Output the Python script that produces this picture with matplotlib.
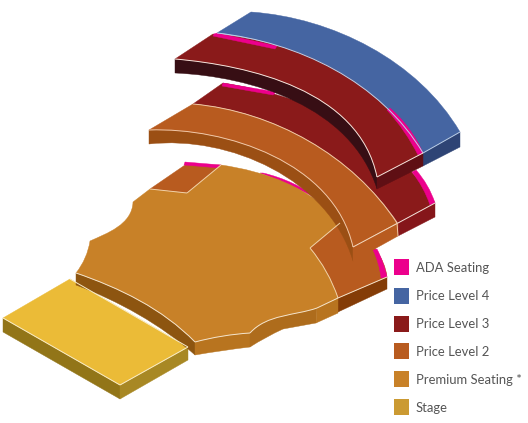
#!/usr/bin/env python3

import numpy as np
import matplotlib
matplotlib.use("Agg")
import matplotlib.pyplot as plt
from matplotlib.patches import PathPatch, Rectangle
from matplotlib.path import Path

# legend
legend_labels = ["ADA Seating", "Price Level 4", "Price Level 3", "Price Level 2", "Premium Seating *", "Stage"]
legend_colors = ["#ec008c", "#4565a2", "#8a1a1a", "#b85b1f", "#c88128", "#cb9a32"]
legend_y = [259, 288, 316, 343, 371, 399]

# section outlines in pixel coordinates, every inner list is one curve or straight edge
stage_top = [[(70, 279), (188, 347)], [(188, 347), (120, 385)], [(120, 385), (3, 318)]]
stage_left = [[(3, 318), (3, 332)], [(3, 332), (120, 399)], [(120, 399), (120, 385)]]
stage_right = [[(120, 385), (120, 399)], [(120, 399), (188, 360)], [(188, 360), (188, 347)]]

p4_outer = [(251, 12), (327, 27), (393, 63), (433, 93), (460, 132)]
p4_inner = [(423, 153), (410, 133), (388, 110), (340, 72), (277, 46), (217, 33)]
p4_top = [p4_outer, p4_inner]
p4_side = [[(460, 132), (460, 147)], [(460, 147), (423, 166)], [(423, 166), (423, 153)]]

up3_inner = [(377, 177), (370, 147), (347, 120), (307, 93), (257, 73), (207, 61), (175, 59)]
up3_top = [[(213, 34), (277, 46), (340, 72), (388, 110), (410, 133), (423, 153)], up3_inner]
up3_front = [[(377, 177), (423, 153)], [(423, 153), (423, 166)], [(423, 166), (377, 189)]]
up3_under = [[(175, 73), (207, 74), (257, 87), (307, 107), (347, 137), (370, 167), (377, 189)], up3_inner]

low3_top = [[(223, 83), (273, 92), (330, 115), (380, 143), (413, 171), (427, 187), (435, 203)],
            [(398, 223), (373, 190), (340, 163), (273, 123), (193, 104)]]
low3_front = [[(398, 223), (435, 203)], [(435, 203), (435, 217)], [(435, 217), (398, 236)]]

p2_outer = [(193, 104), (273, 123), (340, 163), (373, 190), (397, 223)]
p2_inner = [(353, 247), (347, 220), (323, 190), (273, 157), (207, 133), (149, 130)]
p2_top = [p2_outer, p2_inner]
p2_front = [[(353, 247), (398, 223)], [(398, 223), (398, 236)], [(398, 236), (353, 261)]]
p2_under = [[(149, 144), (207, 145), (273, 170), (313, 197), (340, 227), (353, 261)], p2_inner]

prem_back = [(221, 165), (260, 173), (300, 190), (333, 213), (340, 223)]
prem_right = [(310, 248), (327, 273), (338, 298)]
prem_lobe = [(317, 308), (283, 316), (263, 323), (250, 333)]
prem_front = [(250, 333), (230, 335), (195, 342)]
prem_arc = [(195, 342), (167, 318), (133, 297), (100, 282), (76, 273)]
prem_left = [(76, 273), (87, 253), (90, 241)]
prem_notch = [(90, 241), (113, 230), (128, 217), (133, 202)]
prem_top = [prem_back, [(340, 223), (310, 248)], prem_right, [(338, 298), (317, 308)], prem_lobe, prem_front, prem_arc,
            prem_left, prem_notch, [(133, 202), (150, 189)], [(150, 189), (187, 193)], [(187, 193), (221, 165)]]
prem_arc_side = [[(76, 285), (100, 294), (133, 312), (167, 332), (195, 355)], [(195, 355), (195, 342)], prem_arc]
prem_side_a = [[(195, 355), (227, 350), (250, 347)], [(250, 347), (250, 333)], prem_front]
prem_side_b = [[(250, 347), (267, 337), (283, 329)], [(283, 329), (283, 316)], [(283, 316), (263, 323), (250, 333)]]
prem_side_c = [[(283, 329), (316, 323)], [(316, 323), (317, 308)], [(317, 308), (283, 316)]]
prem_side_d = [[(316, 323), (338, 313)], [(338, 313), (338, 298)], [(338, 298), (317, 308)]]

p2_corner = [[(150, 189), (185, 165)], [(185, 165), (221, 165)], [(221, 165), (187, 193)]]
p2_right = [[(340, 223), (310, 248)], prem_right, [(338, 298), (387, 277)],
            [(387, 277), (382, 260), (373, 245), (360, 225)]]
p2_right_side = [[(338, 298), (387, 277)], [(387, 277), (387, 289)], [(387, 289), (338, 312)]]

ada_shapes = [
    [[(214, 34), (217, 33)], [(217, 33), (277, 46)], [(277, 46), (275, 49)], [(275, 49), (213, 36)]],
    [[(387, 110), (390, 108)], [(390, 108), (410, 130), (423, 153)], [(423, 153), (418, 155)], [(418, 155), (403, 130), (387, 110)]],
    [[(223, 83), (276, 92)], [(276, 92), (273, 95)], [(273, 95), (222, 86)]],
    [[(412, 172), (416, 170)], [(416, 170), (428, 187), (435, 203)], [(435, 203), (430, 205)], [(430, 205), (422, 187), (412, 172)]],
    [[(185, 162), (221, 165)], [(221, 165), (220, 168)], [(220, 168), (184, 165)]],
    [[(260, 173), (263, 173)], [(263, 173), (300, 187), (320, 200)], [(320, 200), (300, 190), (260, 173)]],
    [[(373, 250), (377, 249)], [(377, 249), (383, 263), (387, 277)], [(387, 277), (381, 278)], [(381, 278), (378, 263), (373, 250)]],
]

# thin light edges
edge_lines = [
    (p4_inner, "#bcd0ea"), ([(423, 153), (460, 132)], "#bcd0ea"),
    ([(377, 177), (423, 153)], "#f4e4dc"), (up3_inner, "#f4e4dc"),
    ([(398, 223), (435, 203)], "#f4e4dc"),
    (p2_outer, "#f0c8a8"), (p2_inner, "#f0c8a8"), ([(353, 247), (398, 223)], "#f4dcc4"),
    ([(397, 223), (398, 236)], "#f0c8a8"),
    ([(340, 223), (310, 248)], "#f0d0a8"), (prem_right, "#f0d0a8"), ([(338, 298), (387, 277)], "#f4e4cc"),
    ([(150, 189), (187, 193)], "#f0d0a8"), ([(187, 193), (221, 165)], "#f0d0a8"),
    (prem_arc, "#f4e4cc"), (prem_front, "#f4e4cc"), (prem_lobe, "#f4e4cc"), ([(338, 298), (317, 308)], "#f4e4cc"),
    ([(70, 279), (188, 347)], "#f8ecc8"), ([(188, 347), (120, 385)], "#f8ecc8"), ([(120, 385), (3, 318)], "#f8ecc8"),
]


def curve_handles(points):
    # one cubic bezier fitted through the read points, keeps the arcs from wobbling
    pts = np.array(points, dtype=float)
    if len(pts) == 2:
        return [tuple(pts[1])], [Path.LINETO]
    dist = np.r_[0, np.cumsum(np.hypot(*np.diff(pts, axis=0).T))]
    t = dist / dist[-1]
    deg = min(3, len(pts) - 1)
    coef = np.polyfit(t, pts, deg)[::-1]
    coef = np.vstack([coef, np.zeros((4 - len(coef), 2))])
    c1 = coef[0] + coef[1] / 3
    c2 = coef[0] + 2 * coef[1] / 3 + coef[2] / 3
    # pull the handles along with the clamped end points
    c1 = c1 + (pts[0] - coef[0])
    c2 = c2 + (pts[-1] - coef.sum(axis=0))
    return [tuple(c1), tuple(c2), tuple(pts[-1])], [Path.CURVE4] * 3


def build_path(edges, closed=True):
    verts = [edges[0][0]]
    codes = [Path.MOVETO]
    for edge in edges:
        if tuple(edge[0]) != tuple(verts[-1]):
            verts.append(edge[0])
            codes.append(Path.LINETO)
        v, c = curve_handles(edge)
        verts += v
        codes += c
    if closed:
        verts.append(verts[0])
        codes.append(Path.CLOSEPOLY)
    return Path(verts, codes)


fig = plt.figure(figsize=(5.28, 4.23), dpi=100)
ax = fig.add_axes([0, 0, 1, 1])
ax.set_xlim(0, 528)
ax.set_ylim(423, 0)
ax.axis("off")


def fill(edges, color):
    ax.add_patch(PathPatch(build_path(edges), facecolor=color, edgecolor=color, lw=0.3))


for edges, color in [
    (stage_left, "#927518"), (stage_right, "#a88824"), (stage_top, "#ebbb37"),
    (p2_right_side, "#843c07"), (p2_corner, "#b85b1f"),
]:
    fill(edges, color)

fill(prem_arc_side, "#8d5510")
fill(prem_side_a, "#b8741f")
fill(prem_side_b, "#ae6c1c")
fill(prem_side_c, "#ae6c1c")
fill(prem_side_d, "#b8741f")

fill(p2_right, "#b85b1f")
for shape in ada_shapes[4:]:
    fill(shape, "#ec008c")
fill(prem_top, "#c88128")

fill(low3_top, "#8a1a1a")
for shape in ada_shapes[2:4]:
    fill(shape, "#ec008c")
fill(low3_front, "#85161a")

fill(p2_under, "#9b4f14")
fill(p2_front, "#b85b1f")
fill(p2_top, "#b85b1f")

fill(p4_top, "#4565a2")
fill(p4_side, "#2e4475")
fill(up3_under, "#370e14")
fill(up3_front, "#5f0f14")
fill(up3_top, "#8a1a1a")
for shape in ada_shapes[:2]:
    fill(shape, "#ec008c")

for pts, color in edge_lines:
    ax.add_patch(PathPatch(build_path([pts], closed=False), facecolor="none", edgecolor=color, lw=0.7))

for label, color, y in zip(legend_labels, legend_colors, legend_y):
    ax.add_patch(Rectangle((393.5, y), 15.5, 16, facecolor=color, edgecolor="none"))
    ax.text(416, y + 8.5, label, fontsize=9.4, family="Lato", color="#555555", va="center", ha="left")

fig.savefig("out.png", dpi=100)
